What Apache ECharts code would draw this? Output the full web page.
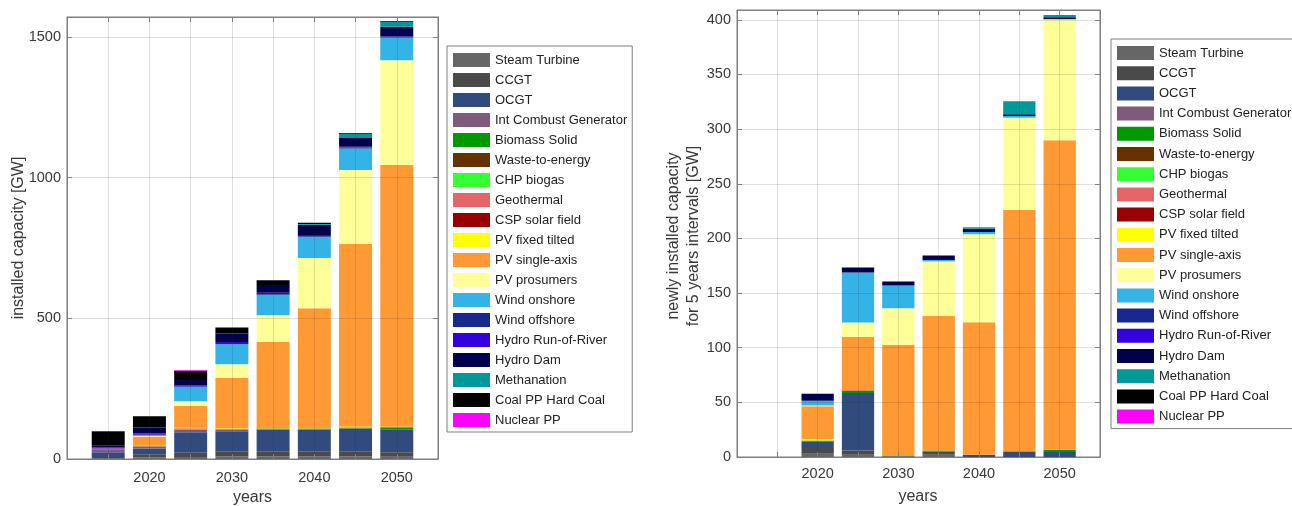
<!DOCTYPE html>
<html>
<head>
<meta charset="utf-8">
<script src="https://cdn.jsdelivr.net/npm/echarts@6/dist/echarts.min.js"></script>
<style>
  html, body { margin: 0; padding: 0; background: #ffffff; }
  #chart { width: 1292px; height: 506px; }
</style>
</head>
<body>
<div id="chart"></div>
<script>
// Model years (one stacked bar per year) and the full year axis with its labelled ticks
const years = [2015, 2020, 2025, 2030, 2035, 2040, 2045, 2050];
const axisYears = ['2010', '2015', '2020', '2025', '2030', '2035', '2040', '2045', '2050', '2055'];
const yearTickLabels = ['2020', '2030', '2040', '2050'];

const techNames = [
  'Steam Turbine', 'CCGT', 'OCGT', 'Int Combust Generator', 'Biomass Solid',
  'Waste-to-energy', 'CHP biogas', 'Geothermal', 'CSP solar field',
  'PV fixed tilted', 'PV single-axis', 'PV prosumers', 'Wind onshore',
  'Wind offshore', 'Hydro Run-of-River', 'Hydro Dam', 'Methanation',
  'Coal PP Hard Coal', 'Nuclear PP'
];
const techColors = [
  '#666666', '#4a4a4a', '#324b7e', '#7f5a7a', '#009900',
  '#663300', '#33ff33', '#e46666', '#990000',
  '#ffff00', '#ff9933', '#ffff99', '#33b3e6',
  '#17298f', '#3300e0', '#00004d', '#009999',
  '#000000', '#ff00ff'
];

// Installed capacity [GW] per technology
const capSteamTurbine   = [2, 5, 7, 9, 9, 9, 9, 8];
const capCCGT           = [5, 12, 15, 17, 17, 17, 17, 16];
const capOCGT           = [17, 20, 73, 73, 78, 78, 81, 82];
const capIntCombust     = [11, 6, 8, 5, 2, 1, 1, 1];
const capBiomassSolid   = [0.5, 1, 1, 1, 2, 3, 4, 6];
const capWasteToEnergy  = [0, 0, 0, 0, 0, 0, 0, 0];
const capCHPBiogas      = [0, 0, 0, 0, 0, 0.5, 0.5, 0.5];
const capGeothermal     = [2, 5, 5, 3, 1, 0.5, 0.5, 0.5];
const capCSP            = [0, 0, 0, 0, 0, 0, 0, 0];
const capPVFixed        = [0, 1, 2, 2, 1.5, 1.5, 2, 1];
const capPVSingleAxis   = [0, 30, 77, 178, 306, 425, 649, 930];
const capPVProsumers    = [0, 2, 17, 49, 94, 179, 263, 372];
const capWindOnshore    = [0, 3, 51, 71, 73, 75, 77, 80];
const capWindOffshore   = [0, 1, 2, 4, 3, 3, 3, 2];
const capHydroRoR       = [3, 5, 3, 4, 4, 4, 3, 3];
const capHydroDam       = [8, 21, 20, 30, 28, 36, 31, 34];
const capMethanation    = [0, 0, 0, 0, 0, 3, 15, 18];
const capCoal           = [50, 40, 33, 21, 17, 4, 3, 3];
const capNuclear        = [1, 0, 2, 0, 0, 0, 0, 0];

// Newly installed capacity for 5-year intervals [GW] per technology
const newSteamTurbine   = [0, 3, 2, 0.5, 2, 0, 0, 0];
const newCCGT           = [0, 5.2, 4, 0.3, 3, 0, 0, 0];
const newOCGT           = [0, 5.8, 52.6, 0, 0, 2, 5, 4.6];
const newIntCombust     = [0, 0, 0, 0, 0, 0, 0, 0];
const newBiomassSolid   = [0, 1.2, 2, 0.5, 1, 0, 0.3, 2.1];
const newWasteToEnergy  = [0, 0, 0, 0, 0, 0, 0, 0];
const newCHPBiogas      = [0, 0, 0, 0, 0, 0, 0, 0];
const newGeothermal     = [0, 0, 1.5, 0, 0, 0, 0, 0];
const newCSP            = [0, 0, 0, 0, 0, 0, 0, 0];
const newPVFixed        = [0, 1, 0, 0, 0, 0, 0, 0];
const newPVSingleAxis   = [0, 30.2, 47.6, 101.5, 123.3, 121.2, 220.6, 283.2];
const newPVProsumers    = [0, 0.8, 13.4, 33.2, 49.5, 80.6, 84.6, 110.4];
const newWindOnshore    = [0, 4.3, 45.8, 21, 1.5, 2, 1.5, 0.5];
const newWindOffshore   = [0, 0, 0, 0, 0, 0, 0, 0];
const newHydroRoR       = [0, 0, 0, 0, 0, 0, 0, 0];
const newHydroDam       = [0, 6.4, 4.5, 3.6, 4, 3, 1.5, 1.5];
const newMethanation    = [0, 0, 0, 0, 0, 1.5, 12, 2.2];
const newCoal           = [0, 0, 0, 0, 0, 0, 0, 0];
const newNuclear        = [0, 0, 0, 0, 0, 0, 0, 0];

const installedByTech = [
  capSteamTurbine, capCCGT, capOCGT, capIntCombust, capBiomassSolid,
  capWasteToEnergy, capCHPBiogas, capGeothermal, capCSP, capPVFixed,
  capPVSingleAxis, capPVProsumers, capWindOnshore, capWindOffshore,
  capHydroRoR, capHydroDam, capMethanation, capCoal, capNuclear
];
const newByTech = [
  newSteamTurbine, newCCGT, newOCGT, newIntCombust, newBiomassSolid,
  newWasteToEnergy, newCHPBiogas, newGeothermal, newCSP, newPVFixed,
  newPVSingleAxis, newPVProsumers, newWindOnshore, newWindOffshore,
  newHydroRoR, newHydroDam, newMethanation, newCoal, newNuclear
];

const FONT = '"Liberation Sans", Arial, Helvetica, sans-serif';
const TEXT_COLOR = '#383838';
const FRAME_COLOR = '#7f7f7f';
const GRID_COLOR = 'rgba(38,38,38,0.15)';

// Spread a per-model-year array over the full year axis (empty at the axis ends)
function onYearAxis(values) {
  return axisYears.map(label => {
    const j = years.indexOf(Number(label));
    return j >= 0 ? values[j] : null;
  });
}

function stackedSeries(valuesByTech, axisIndex) {
  return techNames.map((name, k) => ({
    name: name,
    type: 'bar',
    stack: 'total' + axisIndex,
    xAxisIndex: axisIndex,
    yAxisIndex: axisIndex,
    barWidth: '80%',
    z: 2,
    itemStyle: { color: techColors[k] },
    emphasis: { disabled: true },
    data: onYearAxis(valuesByTech[k])
  }));
}

function yearAxis(gridIndex, labelMargin) {
  return {
    gridIndex: gridIndex,
    type: 'category',
    data: axisYears,
    boundaryGap: false,
    position: 'bottom',
    z: 3,
    axisLine: { show: true, onZero: false, lineStyle: { color: FRAME_COLOR, width: 1 } },
    axisTick: { show: true, inside: true, length: 5, interval: 0, lineStyle: { color: FRAME_COLOR } },
    axisLabel: {
      interval: 0, margin: labelMargin, fontSize: 14.5, color: TEXT_COLOR, fontFamily: FONT,
      formatter: v => (yearTickLabels.indexOf(v) >= 0 ? v : '')
    },
    splitLine: { show: true, interval: 0, lineStyle: { color: GRID_COLOR, width: 1 } }
  };
}

function mirrorX(gridIndex) {
  return {
    gridIndex: gridIndex, type: 'category', data: axisYears, boundaryGap: false,
    position: 'top', z: 3,
    axisLine: { show: true, onZero: false, lineStyle: { color: FRAME_COLOR, width: 1 } },
    axisTick: { show: true, inside: true, length: 5, interval: 0, lineStyle: { color: FRAME_COLOR } },
    axisLabel: { show: false }, splitLine: { show: false }
  };
}

function capacityAxis(gridIndex, maxVal, step) {
  return {
    gridIndex: gridIndex, type: 'value', min: 0, max: maxVal, interval: step,
    position: 'left', z: 3,
    axisLine: { show: true, lineStyle: { color: FRAME_COLOR, width: 1 } },
    axisTick: { show: true, inside: true, length: 5, lineStyle: { color: FRAME_COLOR } },
    axisLabel: {
      margin: 6, fontSize: 14.5, color: TEXT_COLOR, fontFamily: FONT,
      formatter: v => (v % step === 0 ? String(v) : '')
    },
    splitLine: { show: true, lineStyle: { color: GRID_COLOR, width: 1 } }
  };
}

function mirrorY(gridIndex, maxVal, step) {
  return {
    gridIndex: gridIndex, type: 'value', min: 0, max: maxVal, interval: step,
    position: 'right', z: 3,
    axisLine: { show: true, lineStyle: { color: FRAME_COLOR, width: 1 } },
    axisTick: { show: true, inside: true, length: 5, lineStyle: { color: FRAME_COLOR } },
    axisLabel: { show: false }, splitLine: { show: false }
  };
}

function techLegend(left, top, gap) {
  return {
    orient: 'vertical', left: left, top: top,
    data: techNames,
    icon: 'rect', itemWidth: 37, itemHeight: 14, itemGap: gap,
    padding: [7, 5, 5, 6],
    borderColor: FRAME_COLOR, borderWidth: 1, backgroundColor: '#ffffff',
    selectedMode: false,
    textStyle: { fontSize: 13, lineHeight: 14, color: '#222222', fontFamily: FONT }
  };
}

// Axis titles
function axisTitle(text, x, y, vertical) {
  return {
    type: 'text', x: x, y: y, rotation: vertical ? Math.PI / 2 : 0, z: 10,
    style: {
      text: text, fill: TEXT_COLOR, fontSize: 16, fontFamily: FONT, lineHeight: 20,
      align: 'center', verticalAlign: 'middle'
    }
  };
}

const chart = echarts.init(document.getElementById('chart'), null, { renderer: 'canvas' });
chart.setOption({
  animation: false,
  backgroundColor: '#ffffff',
  grid: [
    { left: 67, top: 17, width: 371, height: 442, show: true, borderColor: FRAME_COLOR, borderWidth: 1, backgroundColor: 'transparent' },
    { left: 737, top: 10, width: 363, height: 447, show: true, borderColor: FRAME_COLOR, borderWidth: 1, backgroundColor: 'transparent' }
  ],
  legend: [techLegend(447, 46, 6), techLegend(1111, 39, 6.2)],
  xAxis: [yearAxis(0, 11), yearAxis(1, 9), mirrorX(0), mirrorX(1)],
  yAxis: [
    capacityAxis(0, 1571, 500),
    capacityAxis(1, 409, 50),
    mirrorY(0, 1571, 500),
    mirrorY(1, 409, 50)
  ],
  graphic: [
    axisTitle('installed capacity [GW]', 19, 238, true),
    axisTitle('newly installed capacity\nfor 5 years intervals [GW]', 684, 236, true),
    axisTitle('years', 252.5, 498, false),
    axisTitle('years', 918, 497, false)
  ],
  series: stackedSeries(installedByTech, 0).concat(stackedSeries(newByTech, 1))
});
</script>
</body>
</html>
